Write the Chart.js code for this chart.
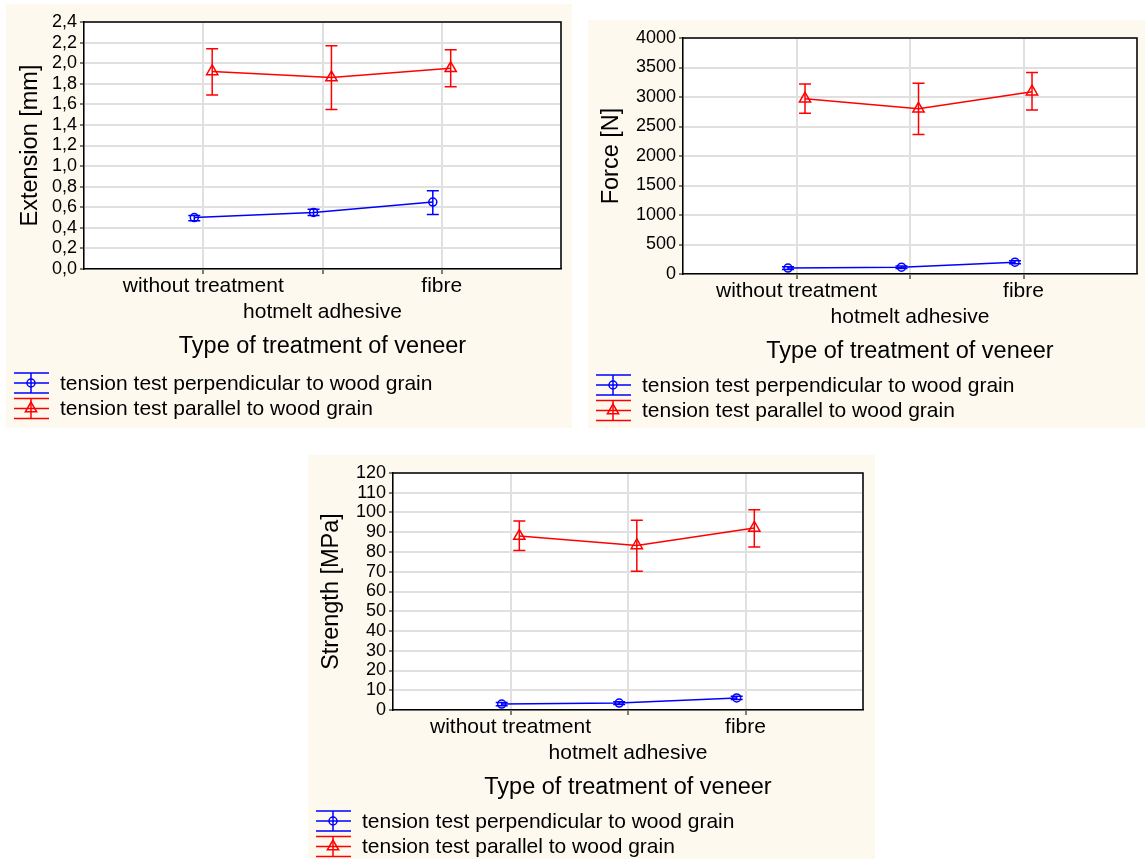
<!DOCTYPE html>
<html>
<head>
<meta charset="utf-8">
<title>Tension tests of veneer</title>
<script src="https://cdn.jsdelivr.net/npm/chart.js@4.4.1/dist/chart.umd.min.js"></script>
<style>
  body { margin: 0; background: #fff; }
  .panel { position: absolute; background: #fdf9ee; }
</style>
</head>
<body>
<div class="panel" style="left:6px;top:4px;width:566px;height:424px"><canvas id="extensionChart"></canvas></div>
<div class="panel" style="left:588px;top:20px;width:557px;height:408px"><canvas id="forceChart"></canvas></div>
<div class="panel" style="left:308px;top:455px;width:567px;height:404px"><canvas id="strengthChart"></canvas></div>
<script>
// ====================== Data ======================
const categories = ["without treatment", "hotmelt adhesive", "fibre"];
const seriesNames = ["tension test perpendicular to wood grain", "tension test parallel to wood grain"];

// Extension [mm] - mean, lower and upper whisker
const extPerp = [0.50, 0.55, 0.65];
const extPerpLow = [0.47, 0.52, 0.53];
const extPerpHigh = [0.52, 0.58, 0.76];
const extPar = [1.92, 1.86, 1.95];
const extParLow = [1.69, 1.55, 1.77];
const extParHigh = [2.14, 2.17, 2.13];
const extTicks = [0, 0.2, 0.4, 0.6, 0.8, 1.0, 1.2, 1.4, 1.6, 1.8, 2.0, 2.2, 2.4];

// Force [N]
const forcePerp = [100, 115, 200];
const forcePerpLow = [78, 95, 175];
const forcePerpHigh = [122, 135, 225];
const forcePar = [2970, 2800, 3090];
const forceParLow = [2725, 2365, 2780];
const forceParHigh = [3220, 3235, 3415];
const forceTicks = [0, 500, 1000, 1500, 2000, 2500, 3000, 3500, 4000];

// Strength [MPa]
const strPerp = [3.0, 3.5, 6.1];
const strPerpLow = [2.2, 2.8, 5.3];
const strPerpHigh = [3.8, 4.2, 6.9];
const strPar = [88.1, 83.3, 92.2];
const strParLow = [80.8, 70.2, 82.5];
const strParHigh = [95.7, 96.1, 101.4];
const strTicks = [0, 10, 20, 30, 40, 50, 60, 70, 80, 90, 100, 110, 120];

// ====================== Common setup ======================
Chart.defaults.font.family = '"Liberation Sans", Arial, sans-serif';
Chart.defaults.color = "#000";

const BLUE = "#0000ff";
const RED = "#ff0000";
const GRID = "#e0e0e0";
const SHIFT = 0.075; // points of the two series are drawn a bit apart

// white plot area
const plotBackground = {
  id: "plotBackground",
  beforeDraw(chart) {
    const { ctx, chartArea: a } = chart;
    ctx.save();
    ctx.fillStyle = "#fff";
    ctx.fillRect(a.left, a.top, a.right - a.left, a.bottom - a.top);
    ctx.restore();
  }
};

// whiskers from errLow / errHigh of each dataset
const errorBars = {
  id: "errorBars",
  afterDatasetsDraw(chart) {
    const ctx = chart.ctx;
    const y = chart.scales.y;
    chart.data.datasets.forEach((ds, di) => {
      const meta = chart.getDatasetMeta(di);
      ctx.save();
      ctx.strokeStyle = ds.borderColor;
      ctx.lineWidth = 1.5;
      meta.data.forEach((pt, i) => {
        const top = y.getPixelForValue(ds.errHigh[i]);
        const bot = y.getPixelForValue(ds.errLow[i]);
        ctx.beginPath();
        ctx.moveTo(pt.x, top); ctx.lineTo(pt.x, bot);
        ctx.moveTo(pt.x - 6, top); ctx.lineTo(pt.x + 6, top);
        ctx.moveTo(pt.x - 6, bot); ctx.lineTo(pt.x + 6, bot);
        ctx.stroke();
      });
      ctx.restore();
    });
  }
};

// top / right frame and the legend under the axis title
const frameAndLegend = {
  id: "frameAndLegend",
  afterDraw(chart) {
    const { ctx, chartArea: a } = chart;
    ctx.save();
    ctx.strokeStyle = "#000";
    ctx.lineWidth = 1.5;
    ctx.beginPath();
    ctx.moveTo(a.left, a.top);
    ctx.lineTo(a.right, a.top);
    ctx.lineTo(a.right, a.bottom);
    ctx.stroke();

    ctx.font = '21px "Liberation Sans", Arial, sans-serif';
    ctx.textBaseline = "middle";
    chart.data.datasets.forEach((ds, i) => {
      const cy = a.bottom + chart.options.legendOffset + i * 25.5;
      const x0 = 8, cx = x0 + 17;
      ctx.strokeStyle = ds.borderColor;
      ctx.lineWidth = 1.5;
      ctx.beginPath();
      [-10, 0, 10].forEach(d => { ctx.moveTo(x0, cy + d); ctx.lineTo(x0 + 35, cy + d); });
      ctx.moveTo(cx, cy - 10); ctx.lineTo(cx, cy + 10);
      ctx.stroke();
      ctx.fillStyle = "rgba(0,0,0,0)";
      Chart.helpers.drawPoint(ctx, { pointStyle: ds.pointStyle, radius: ds.pointRadius, borderWidth: 1.5, rotation: 0 }, cx, cy);
      ctx.fillStyle = "#000";
      ctx.fillText(ds.label, x0 + 46, cy + 1);
    });
    ctx.restore();
  }
};

function seriesData(values, side) {
  return values.map((v, i) => ({ x: i + side * SHIFT, y: v }));
}

function makeChart(id, p) {
  const ctx = document.getElementById(id).getContext("2d");
  const xTicks = [-1].concat(categories.map((c, i) => i), [categories.length]);
  const isCategory = v => v >= 0 && v < categories.length;

  new Chart(ctx, {
    type: "line",
    data: {
      datasets: [{
        label: seriesNames[0],
        data: seriesData(p.perp, -1),
        errLow: p.perpLow,
        errHigh: p.perpHigh,
        borderColor: BLUE,
        borderWidth: 1.5,
        pointStyle: "circle",
        pointRadius: 4,
        pointBorderWidth: 1.5,
        pointBackgroundColor: "rgba(0,0,0,0)",
        tension: 0
      }, {
        label: seriesNames[1],
        data: seriesData(p.par, 1),
        errLow: p.parLow,
        errHigh: p.parHigh,
        borderColor: RED,
        borderWidth: 1.5,
        pointStyle: "triangle",
        pointRadius: 6.5,
        pointBorderWidth: 1.5,
        pointBackgroundColor: "rgba(0,0,0,0)",
        tension: 0
      }]
    },
    options: {
      responsive: true,
      maintainAspectRatio: false,
      animation: false,
      legendOffset: p.legendOffset,
      layout: { padding: { left: 0, right: p.rightPad, top: 18, bottom: 0 } },
      plugins: { legend: { display: false }, tooltip: { enabled: false } },
      scales: {
        x: {
          type: "linear",
          min: -1,
          max: categories.length,
          afterBuildTicks: s => { s.ticks = xTicks.map(v => ({ value: v })); },
          afterFit: s => { s.height = p.below; },
          ticks: {
            font: { size: 21 },
            padding: 0,
            maxRotation: 0,
            autoSkip: false,
            // the middle category goes to a second row, as in the original
            callback: v => {
              const c = categories[v];
              if (!c) return "";
              return v % 2 ? ["", c] : c;
            }
          },
          grid: {
            color: GRID,
            lineWidth: 2,
            tickLength: 5,
            tickWidth: 1,
            tickColor: c => (c.tick && isCategory(c.tick.value)) ? "#000" : "rgba(0,0,0,0)"
          },
          border: { color: "#000", width: 1.5 },
          title: {
            display: true,
            text: "Type of treatment of veneer",
            font: { size: 23.5 },
            padding: { top: 0, bottom: p.below - 78 - 14.1 }
          }
        },
        y: {
          min: p.ticks[0],
          max: p.ticks[p.ticks.length - 1],
          afterBuildTicks: s => { s.ticks = p.ticks.map(v => ({ value: v })); },
          afterFit: s => { s.width = p.leftWidth; },
          ticks: { font: { size: 18 }, padding: 3, autoSkip: false, callback: p.format },
          grid: { color: GRID, lineWidth: 2, tickLength: 4, tickColor: "#000", tickWidth: 1 },
          border: { color: "#000", width: 1.5 },
          title: {
            display: true,
            text: p.title,
            font: { size: 23.5 },
            padding: { top: p.titleX - 14.1, bottom: 0 }
          }
        }
      }
    },
    plugins: [plotBackground, errorBars, frameAndLegend]
  });
}

// ====================== Charts ======================
makeChart("extensionChart", {
  title: "Extension [mm]",
  ticks: extTicks,
  format: v => v.toFixed(1).replace(".", ","),
  perp: extPerp, perpLow: extPerpLow, perpHigh: extPerpHigh,
  par: extPar, parLow: extParLow, parHigh: extParHigh,
  leftWidth: 78, rightPad: 11, below: 159, titleX: 25, legendOffset: 114
});

makeChart("forceChart", {
  title: "Force [N]",
  ticks: forceTicks,
  format: v => String(v),
  perp: forcePerp, perpLow: forcePerpLow, perpHigh: forcePerpHigh,
  par: forcePar, parLow: forceParLow, parHigh: forceParHigh,
  leftWidth: 95, rightPad: 3, below: 154, titleX: 24, legendOffset: 111
});

makeChart("strengthChart", {
  title: "Strength [MPa]",
  ticks: strTicks,
  format: v => String(v),
  perp: strPerp, perpLow: strPerpLow, perpHigh: strPerpHigh,
  par: strPar, parLow: strParLow, parHigh: strParHigh,
  leftWidth: 85, rightPad: 12, below: 149, titleX: 24, legendOffset: 111
});
</script>
</body>
</html>
